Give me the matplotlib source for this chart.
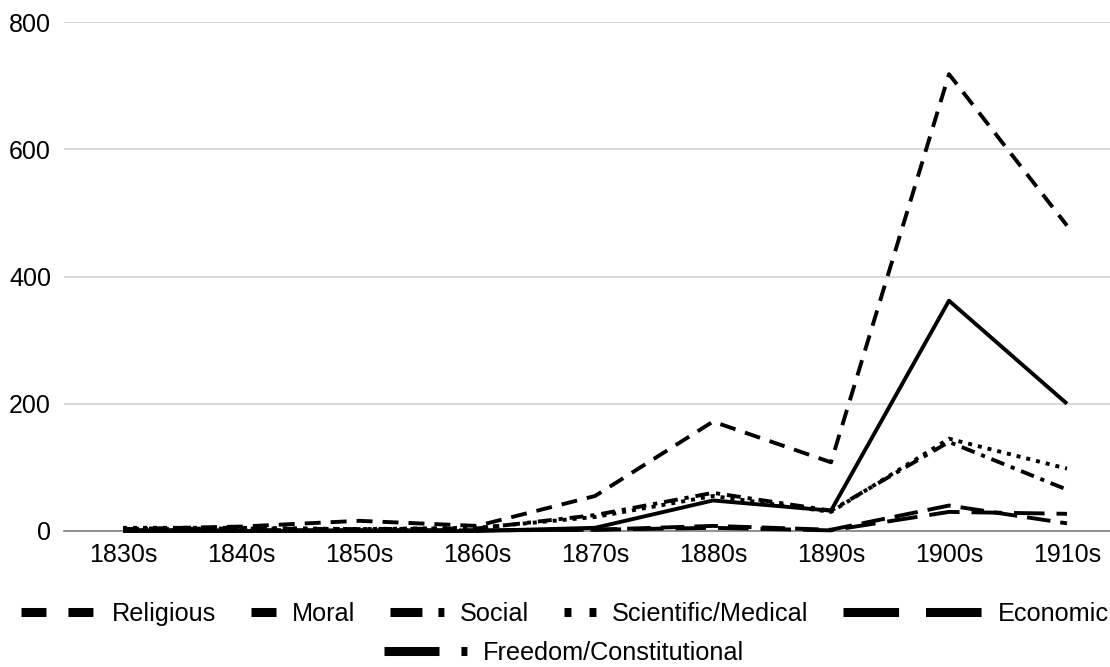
import matplotlib
matplotlib.use('Agg')
import matplotlib.pyplot as plt
from matplotlib.lines import Line2D
import numpy as np

plt.rcParams['font.family'] = ['Liberation Sans', 'DejaVu Sans']
plt.rcParams['lines.scale_dashes'] = False

# data
decades = ['1830s', '1840s', '1850s', '1860s', '1870s', '1880s', '1890s', '1900s', '1910s']
religious = [3, 7, 16, 8, 55, 172, 108, 718, 480]
moral = [1, 1, 1, 1, 2, 8, 2, 40, 12]
social = [3, 4, 3, 4, 25, 60, 32, 140, 65]
scientific = [5, 5, 3, 5, 22, 55, 30, 145, 98]
economic = [1, 1, 1, 1, 2, 5, 1, 30, 27]
freedom = [0, 0, 0, 0, 5, 48, 32, 362, 200]

W, H = 1110, 667
FS = 18
LFS = 18.2
fig = plt.figure(figsize=(W / 100, H / 100), dpi=100)
ax = fig.add_axes([64 / W, 136 / H, 1062 / W, 509 / H])

# name, values, dashes on the plot, dashes in the legend, legend handle length (px)
series = [
    ('Religious', religious, (11.5, 7.2), (18, 15.8), 75),
    ('Moral', moral, (17, 7.2), None, 25),
    ('Social', social, (10, 5, 3, 5), (23, 11.5, 4.3, 60), 54),
    ('Scientific/Medical', scientific, (2.9, 4.3), (5, 13), 32),
    ('Economic', economic, (22, 8.6), (40, 19.4), 139),
    ('Freedom/Constitutional', freedom, None, (39.6, 15.8, 4.3, 60), 83),
]

x = np.arange(len(decades))
for name, vals, dash, ldash, hl in series:
    line, = ax.plot(x, vals, color='black', lw=2.8, solid_capstyle='butt',
                    dash_capstyle='butt', clip_on=False, zorder=3)
    if dash is not None:
        line.set_dashes(dash)

ax.set_xlim(-0.5, len(decades) - 0.5)
ax.set_ylim(0, 800)
ax.set_yticks([0, 200, 400, 600, 800])
ax.set_xticks(x)
ax.set_xticklabels(decades)
ax.tick_params(axis='both', length=0, labelsize=FS, colors='black')
ax.tick_params(axis='y', pad=9.4)
ax.tick_params(axis='x', pad=8.6)
ax.grid(axis='y', color='#d0d0d0', lw=1.1)
ax.set_axisbelow(True)
for s in ['top', 'left', 'right']:
    ax.spines[s].set_visible(False)
ax.spines['bottom'].set_color('#808080')
ax.spines['bottom'].set_linewidth(1.2)
ax.spines['bottom'].set_zorder(2)


def legend_entry(name, ldash, hl, xpx, ypx):
    h = Line2D([0], [0], color='black', lw=6.5, solid_capstyle='butt', dash_capstyle='butt')
    if ldash is not None:
        h.set_dashes(ldash)
    return fig.legend(handles=[h], labels=[name], loc='center left',
                      bbox_to_anchor=(xpx / W, 1 - ypx / H), frameon=False,
                      borderpad=0, borderaxespad=0, handlelength=hl / (LFS / 0.72),
                      handletextpad=0.62, fontsize=LFS)


fig.canvas.draw()
renderer = fig.canvas.get_renderer()
xpos = 21
for name, vals, dash, ldash, hl in series[:5]:
    leg = legend_entry(name, ldash, hl, xpos, 614)
    xpos = leg.get_window_extent(renderer).x1 + 35

name, vals, dash, ldash, hl = series[5]
legend_entry(name, ldash, hl, 384, 653)

fig.savefig('out.png', dpi=100)
